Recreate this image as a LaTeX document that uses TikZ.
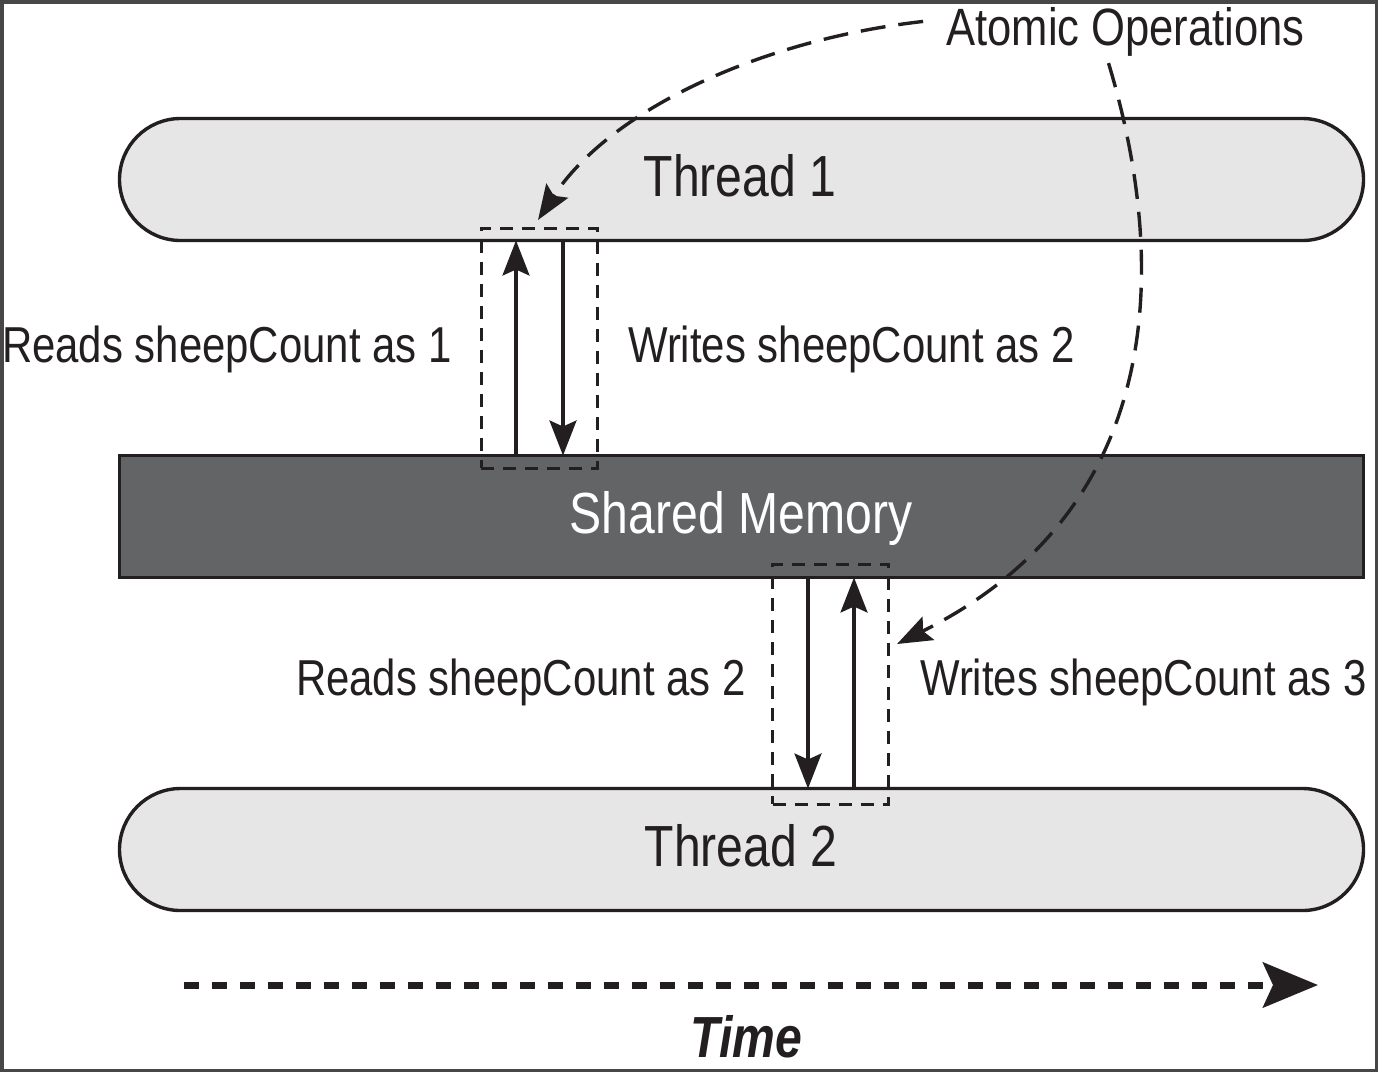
\documentclass[tikz,border=0pt]{standalone}
\usepackage{fontspec}
\setmainfont{Liberation Sans}[FakeStretch=0.83]
\usetikzlibrary{arrows.meta}
\definecolor{framecol}{HTML}{474747}
\definecolor{threadfill}{HTML}{E6E6E6}
\definecolor{memfill}{HTML}{636466}
\definecolor{ink}{HTML}{231F20}
\begin{document}
\begin{tikzpicture}[x=1pt,y=-1pt,
  lbl/.style={font=\fontsize{50.5}{60}\selectfont, text=ink, inner sep=0pt},
  big/.style={font=\fontsize{58}{70}\selectfont, text=ink, inner sep=0pt},
  thread/.style={draw=ink, line width=3.4pt, fill=threadfill, rounded corners=61pt, minimum width=1244pt, minimum height=122pt, inner sep=0pt, outer sep=0pt},
  mem/.style={draw=ink, line width=3.4pt, fill=memfill, minimum width=1244pt, minimum height=122pt, inner sep=0pt, outer sep=0pt},
  atombox/.style={draw=ink, line width=3pt, dash pattern=on 13pt off 9pt, minimum width=116pt, inner sep=0pt, outer sep=0pt},
  flow/.style={draw=ink, line width=3.2pt, -{Stealth[length=35pt,width=27pt,inset=6pt]}},
  note/.style={draw=ink, line width=3.4pt, dash pattern=on 25pt off 13pt, -{Stealth[length=35pt,width=26pt,inset=6pt]}},
  timearrow/.style={draw=ink, line width=7pt, dash pattern=on 15pt off 13pt, -{Stealth[length=55pt,width=45pt,inset=10pt]}}
]
\fill[framecol] (0,0) rectangle (1378,1072);
\fill[white] (3.5,4) rectangle (1375,1069);
\useasboundingbox (0,0) rectangle (1378,1072);

% main bands
\node[thread] (t1) at (741.5,179.5) {};
\node[mem] (sm) at (741.5,516.5) {};
\node[thread] (t2) at (741.5,849.5) {};
\node[big, anchor=base] (t1lbl) at (740,196) {Thread 1};
\node[big, anchor=base, text=white] (smlbl) at (741,533) {Shared Memory};
\node[big, anchor=base] (t2lbl) at (741,866) {Thread 2};

% atomic operation boxes
\node[atombox, minimum height=240pt] (b1) at (539,348) {};
\node[atombox, minimum height=240pt] (b2) at (830.5,684) {};

% read / write arrows
\coordinate (u1) at (516,0);
\coordinate (d1) at (563,0);
\coordinate (d2) at (808,0);
\coordinate (u2) at (854,0);
\draw[flow] (sm.north -| u1) -- (t1.south -| u1);
\draw[flow] (t1.south -| d1) -- (sm.north -| d1);
\draw[flow] (sm.south -| d2) -- (t2.north -| d2);
\draw[flow] (t2.north -| u2) -- (sm.south -| u2);

% labels
\node[lbl, anchor=base east] (r1) at (452,362) {Reads sheepCount as 1};
\node[lbl, anchor=base west] (w1) at (628,362) {Writes sheepCount as 2};
\node[lbl, anchor=base east] (r2) at (746,695) {Reads sheepCount as 2};
\node[lbl, anchor=base west] (w2) at (920,695) {Writes sheepCount as 3};
\node[lbl, anchor=base, font=\fontsize{52.5}{62}\selectfont] (atom) at (1125.5,45) {Atomic Operations};

% callout curves
\coordinate (a1end) at (538,220);
\coordinate (a2end) at (897,644);
\draw[note] ([xshift=-23pt,yshift=10pt]atom.west) .. controls (760,40) and (610,110) .. (a1end);
\draw[note] ([xshift=-17pt,yshift=-7pt]atom.south) .. controls (1165,250) and (1175,505) .. (a2end);

% time axis
\coordinate (tstart) at (184,985);
\coordinate (tend) at (1318,985);
\draw[timearrow] (tstart) -- (tend);
\node[anchor=base, inner sep=0pt, text=ink, font=\fontsize{58}{70}\selectfont\bfseries\itshape] (time) at (746.5,1057) {Time};
\end{tikzpicture}
\end{document}
